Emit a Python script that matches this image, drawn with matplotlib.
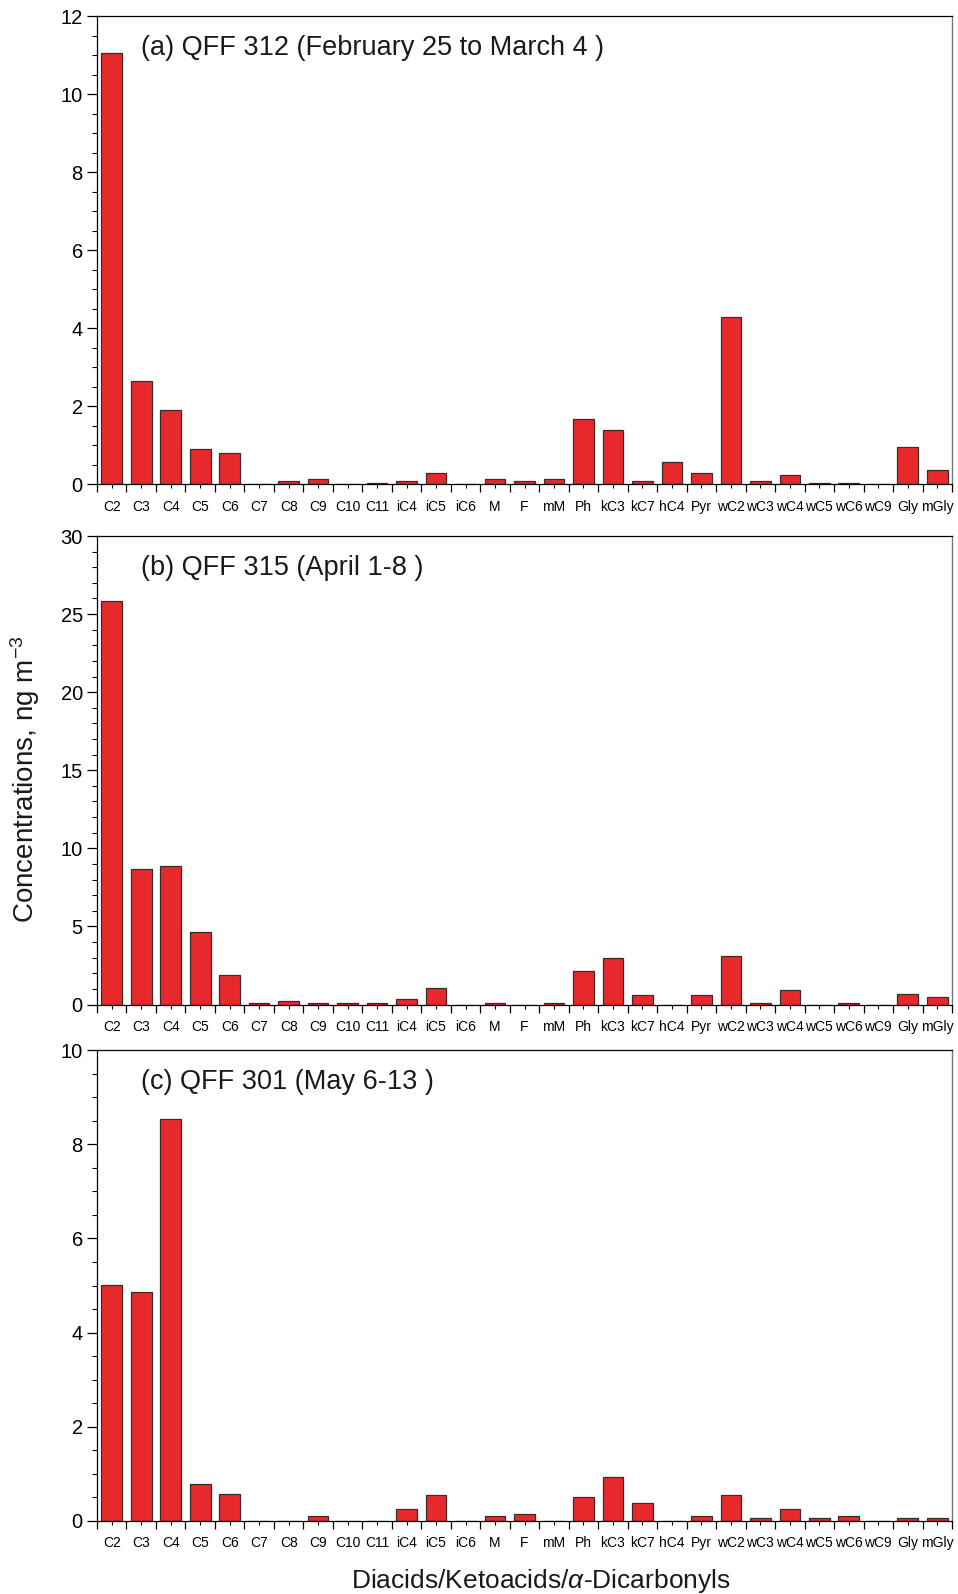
import matplotlib
matplotlib.use("Agg")
import matplotlib.pyplot as plt
from matplotlib.ticker import MultipleLocator, FixedLocator, NullFormatter
import numpy as np

plt.rcParams['font.family'] = ['Liberation Sans', 'DejaVu Sans']
plt.rcParams['mathtext.fontset'] = 'custom'
plt.rcParams['mathtext.rm'] = 'Liberation Sans'
plt.rcParams['mathtext.it'] = 'Liberation Sans:italic'

species = ["C2", "C3", "C4", "C5", "C6", "C7", "C8", "C9", "C10", "C11",
           "iC4", "iC5", "iC6", "M", "F", "mM", "Ph", "kC3", "kC7", "hC4",
           "Pyr", "wC2", "wC3", "wC4", "wC5", "wC6", "wC9", "Gly", "mGly"]

qff312 = [11.05, 2.65, 1.90, 0.90, 0.81, 0.0, 0.09, 0.14, 0.0, 0.04,
          0.09, 0.28, 0.0, 0.14, 0.09, 0.14, 1.67, 1.38, 0.09, 0.57,
          0.28, 4.29, 0.09, 0.23, 0.04, 0.04, 0.0, 0.95, 0.37]

qff315 = [25.83, 8.67, 8.89, 4.64, 1.91, 0.10, 0.22, 0.10, 0.10, 0.10,
          0.35, 1.06, 0.0, 0.10, 0.0, 0.10, 2.15, 2.97, 0.59, 0.0,
          0.59, 3.09, 0.10, 0.95, 0.0, 0.10, 0.0, 0.69, 0.46]

qff301 = [5.02, 4.87, 8.53, 0.78, 0.58, 0.0, 0.0, 0.10, 0.0, 0.0,
          0.26, 0.55, 0.0, 0.10, 0.15, 0.0, 0.51, 0.94, 0.39, 0.0,
          0.10, 0.55, 0.07, 0.26, 0.07, 0.10, 0.0, 0.07, 0.07]

panel_titles = ["(a) QFF 312 (February 25 to March 4 )",
                "(b) QFF 315 (April 1-8 )",
                "(c) QFF 301 (May 6-13 )"]
y_limits = [12, 30, 10]
y_major = [2, 5, 2]
y_minor = [0.5, 1, 0.5]

W, H = 958, 1594
fig = plt.figure(figsize=(W / 100, H / 100), dpi=100)

left = 97 / W
width = (952 - 97) / W
# (top, bottom) pixel rows of each panel
rows = [(16, 484.3), (536, 1004.5), (1050, 1521)]

bar_color = '#E8292C'
edge_color = '#3a2a2a'
x = np.arange(len(species))

for data, title, ymax, ymaj, ymin, (top, bot) in zip(
        [qff312, qff315, qff301], panel_titles, y_limits, y_major, y_minor, rows):
    ax = fig.add_axes([left, 1 - bot / H, width, (bot - top) / H])
    ax.bar(x, data, width=0.7, color=bar_color, edgecolor=edge_color,
           linewidth=0.9, zorder=2)
    ax.set_xlim(-0.5, len(species) - 0.5)
    ax.set_ylim(0, ymax)

    # y axis
    ax.yaxis.set_major_locator(MultipleLocator(ymaj))
    ax.yaxis.set_minor_locator(MultipleLocator(ymin))
    ax.tick_params(axis='y', which='major', direction='out', length=7.2,
                   width=0.9, labelsize=14.5, pad=3)
    ax.tick_params(axis='y', which='minor', direction='out', length=3.6,
                   width=0.8)

    # x axis: labels at bar centres, longer ticks at category boundaries
    ax.set_xticks(x)
    ax.set_xticklabels(species, fontsize=10)
    ax.xaxis.set_minor_locator(FixedLocator(np.arange(-0.5, len(species), 1.0)))
    ax.xaxis.set_minor_formatter(NullFormatter())
    ax.tick_params(axis='x', which='major', direction='out', length=3,
                   width=0.8, pad=8, colors='black')
    ax.tick_params(axis='x', which='minor', direction='out', length=6,
                   width=0.9)
    ax.tick_params(top=False, right=False, which='both')

    for s in ['left', 'bottom', 'top']:
        ax.spines[s].set_linewidth(0.9)
        ax.spines[s].set_color('black')
    ax.spines['right'].set_linewidth(1.0)
    ax.spines['right'].set_color('#777777')

    ax.text(0.052, 0.932, title, transform=ax.transAxes, fontsize=19.5,
            ha='left', va='center', color='#1a1a1a')

fig.text(25 / W, 1 - 779 / H, r'Concentrations, ng m$^{-3}$', rotation=90,
         ha='center', va='center', fontsize=20, color='#1a1a1a')
fig.text(541 / W, 1 - 1581 / H, r'Diacids/Ketoacids/$\alpha$-Dicarbonyls',
         ha='center', va='center', fontsize=19, color='#1a1a1a')

fig.savefig('out.png', dpi=100)
